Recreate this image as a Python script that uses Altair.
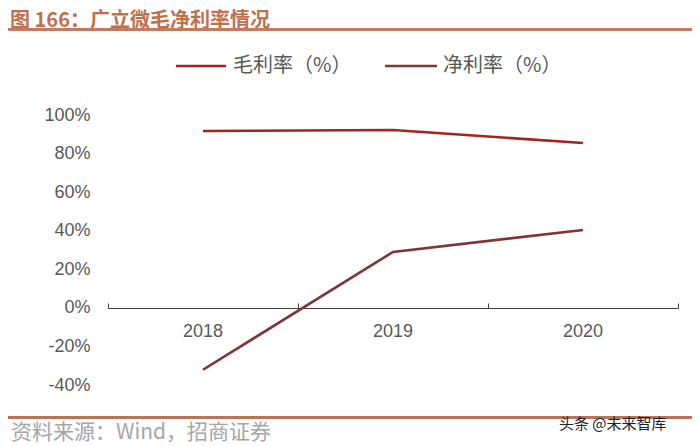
import altair as alt
import pandas as pd

years = ["2018", "2019", "2020"]
gross_margin = [91.7, 92.2, 85.5]
net_margin = [-32.1, 29.0, 40.4]
series_names = ["毛利率（%）", "净利率（%）"]
y_ticks = [-40, -20, 0, 20, 40, 60, 80, 100]

rows = []
for name, vals in zip(series_names, [gross_margin, net_margin]):
    for yr, v in zip(years, vals):
        rows.append({"year": yr, "value": v, "series": name})
df = pd.DataFrame(rows)

NUM_FONT = "Liberation Sans"
CJK_FONT = "Noto Sans CJK SC"
colors = ["#a52222", "#823434"]

x_enc = alt.X("year:N", sort=years, scale=alt.Scale(paddingInner=0, paddingOuter=0),
              axis=alt.Axis(orient="bottom", title=None, domain=False, ticks=False,
                            labelAngle=0, labelFont=NUM_FONT, labelFontSize=18,
                            labelColor="#595959", labelPadding=14, offset=-77,
                            labelOverlap=False))
y_axis = alt.Axis(title=None, values=y_ticks, labelExpr="datum.value + '%'",
                  domain=False, ticks=False, grid=False, labelFont=NUM_FONT,
                  labelFontSize=18, labelColor="#595959", labelPadding=18,
                  labelOverlap=False)
y_scale = alt.Scale(domain=[-40, 100], nice=False, zero=False)

lines = alt.Chart(df).mark_line(strokeWidth=2.6).encode(
    x=x_enc,
    y=alt.Y("value:Q", scale=y_scale, axis=y_axis),
    color=alt.Color("series:N", sort=series_names,
                    scale=alt.Scale(domain=series_names, range=colors), legend=None),
)

top_axis = alt.Chart(df).mark_line(opacity=0).encode(
    x=alt.X("year:N", sort=years,
            axis=alt.Axis(orient="top", title=None, labels=False, domain=True,
                          domainColor="#404040", domainWidth=1, ticks=True,
                          tickColor="#404040", tickSize=5, tickBand="extent",
                          offset=-193)),
    y=alt.Y("value:Q", scale=y_scale, axis=y_axis),
)

ann = pd.DataFrame({"k": [0]})
base = alt.Chart(ann)

title_text = base.mark_text(align="left", baseline="top", font=CJK_FONT,
                            fontSize=20, fontWeight="bold", color="#c0704a").encode(
    x=alt.value(-98), y=alt.value(-104), text=alt.value("图 166：广立微毛净利率情况"))
title_rule = base.mark_rule(color="#c27a60", strokeWidth=3).encode(
    x=alt.value(-100), x2=alt.value(584), y=alt.value(-85.5))

leg1_line = base.mark_rule(color=colors[0], strokeWidth=2.6).encode(
    x=alt.value(68), x2=alt.value(118), y=alt.value(-49))
leg1_text = base.mark_text(align="left", baseline="middle", font=CJK_FONT,
                           fontSize=20, color="#595959").encode(
    x=alt.value(125), y=alt.value(-49), text=alt.value(series_names[0]))
leg2_line = base.mark_rule(color=colors[1], strokeWidth=2.6).encode(
    x=alt.value(277), x2=alt.value(329), y=alt.value(-49))
leg2_text = base.mark_text(align="left", baseline="middle", font=CJK_FONT,
                           fontSize=20, color="#595959").encode(
    x=alt.value(335), y=alt.value(-49), text=alt.value(series_names[1]))

foot_rule = base.mark_rule(color="#b8735a", strokeWidth=3).encode(
    x=alt.value(-100), x2=alt.value(584), y=alt.value(302.5))
foot_text = base.mark_text(align="left", baseline="middle", font=CJK_FONT,
                           fontSize=21, color="#a6a6a6").encode(
    x=alt.value(-97), y=alt.value(318), text=alt.value("资料来源：Wind，招商证券"))
wm_text = base.mark_text(align="left", baseline="middle", font=CJK_FONT,
                         fontSize=15, color="#222222").encode(
    x=alt.value(451), y=alt.value(309), text=alt.value("头条 @未来智库"))

chart = alt.layer(
    top_axis, lines, title_text, title_rule, leg1_line, leg1_text, leg2_line, leg2_text,
    foot_rule, foot_text, wm_text
).properties(
    width=570, height=270,
    background="white",
    autosize=alt.AutoSizeParams(type="none"),
    padding={"left": 100, "top": 107, "right": 14, "bottom": 75},
).configure_view(strokeOpacity=0, strokeWidth=0)

chart.save("out.html", embed_options={"renderer": "svg", "actions": False})
